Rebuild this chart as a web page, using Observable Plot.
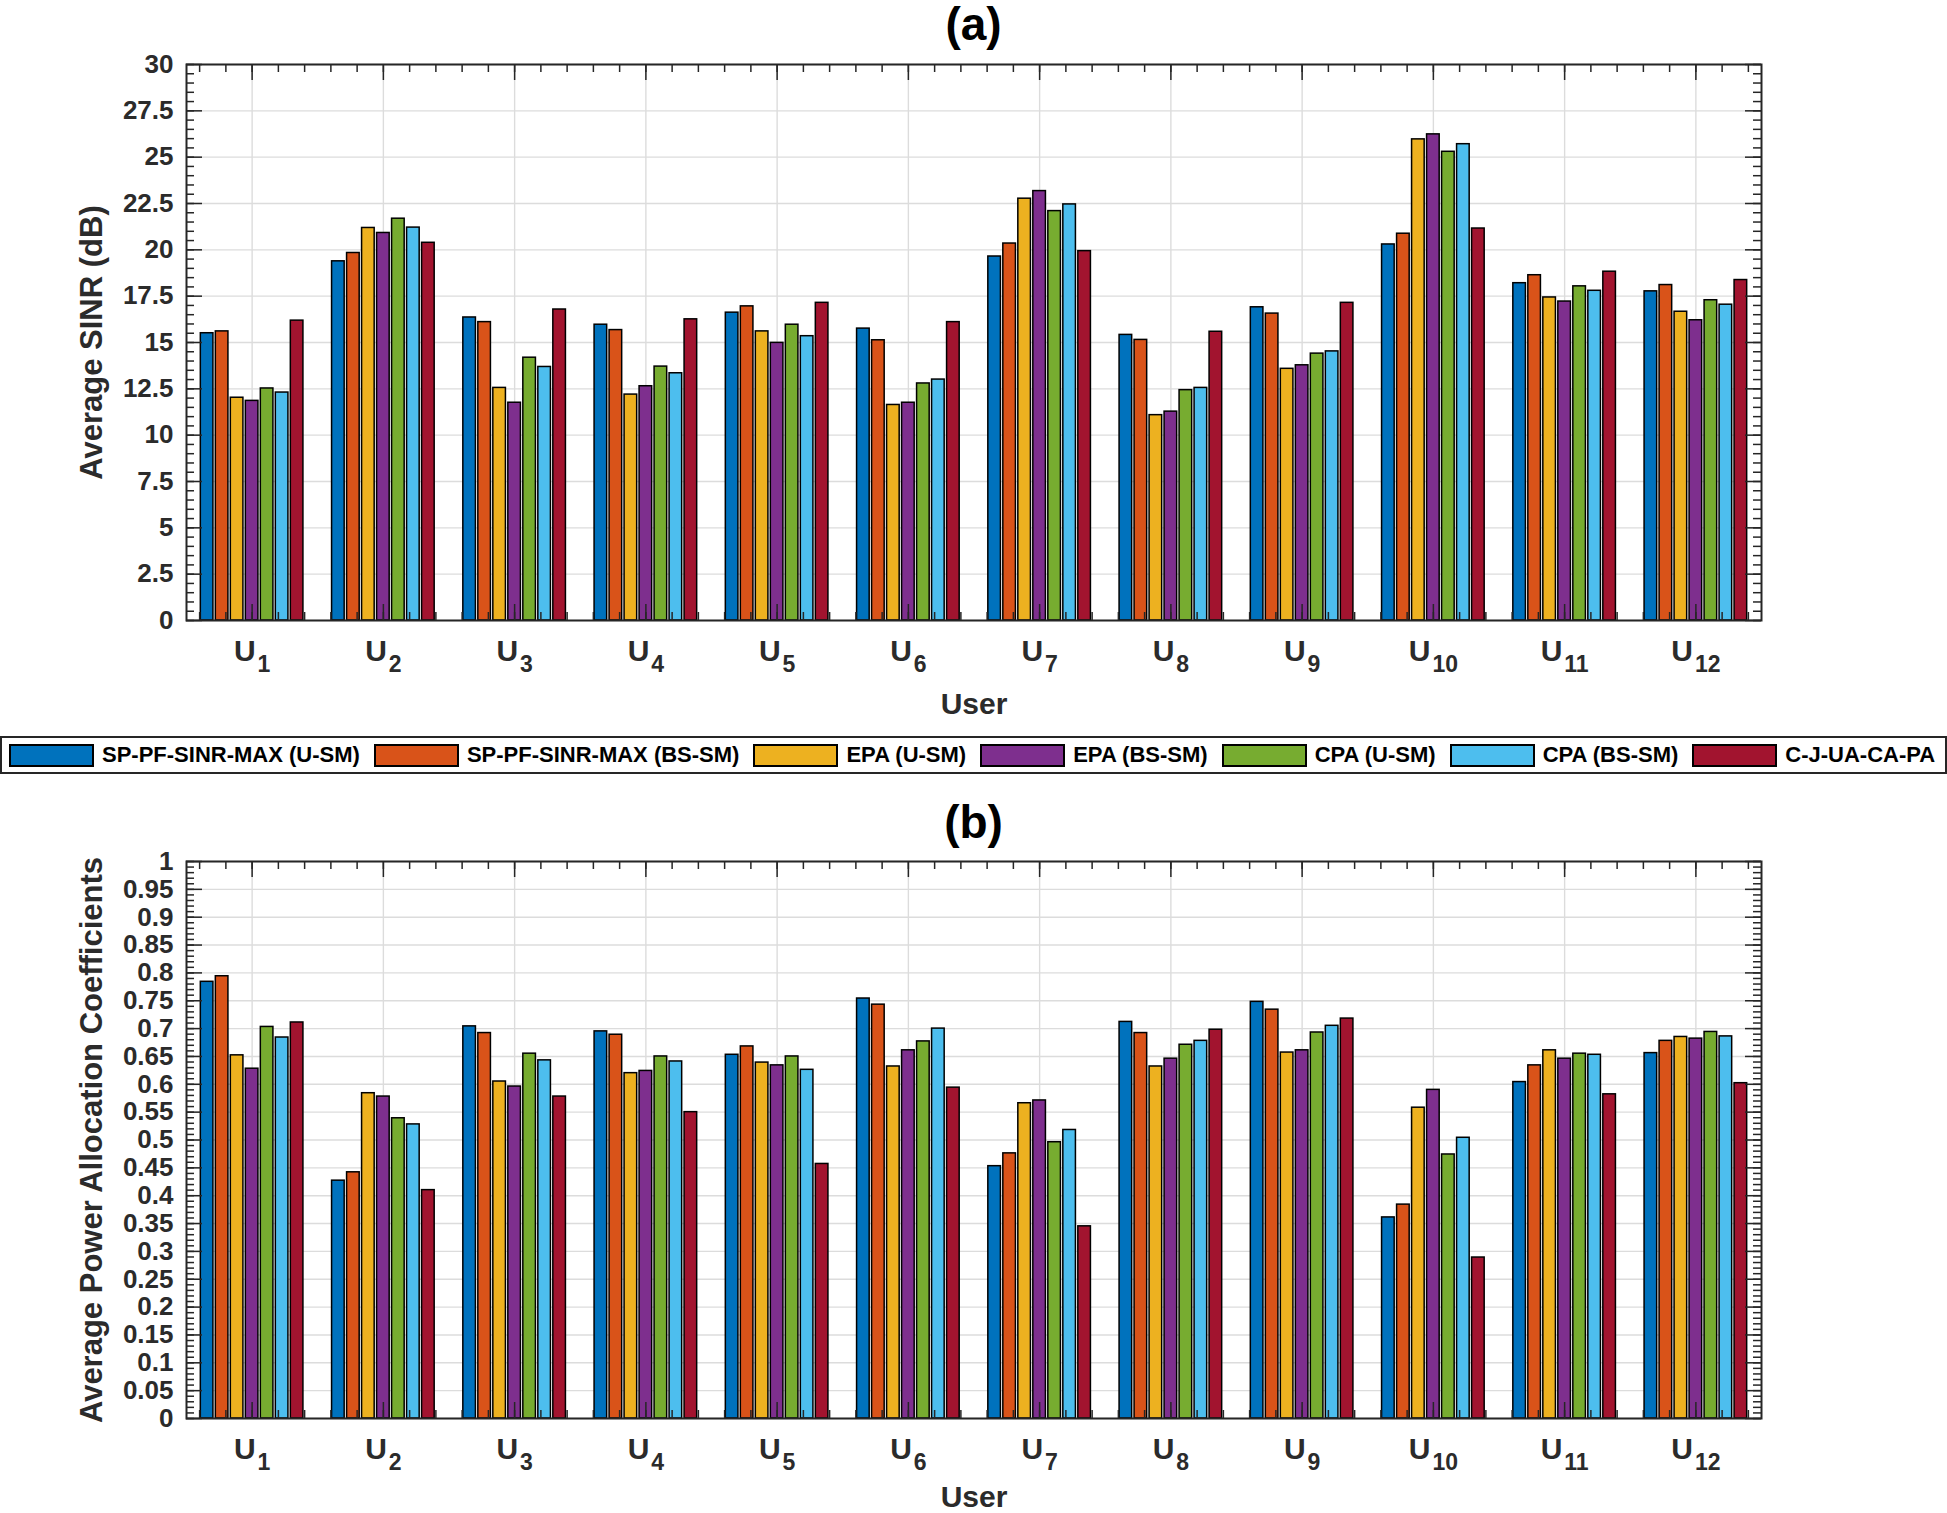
<!DOCTYPE html>
<html><head><meta charset="utf-8">
<script src="https://cdn.jsdelivr.net/npm/d3@7"></script>
<script src="https://cdn.jsdelivr.net/npm/@observablehq/plot@0.6"></script>
<style>
html,body{margin:0;padding:0;background:#fff;}
body{width:1947px;height:1513px;position:relative;overflow:hidden;font-family:"Liberation Sans",Arial,sans-serif;}
.title{position:absolute;left:0;width:1947px;text-align:center;font-weight:bold;font-size:46px;line-height:54px;color:#000;}
.chart{position:absolute;left:0;}
#legend{position:absolute;left:0;top:736px;width:1947px;height:38px;box-sizing:border-box;border:2px solid #262626;display:flex;align-items:center;padding-left:7px;font-weight:bold;font-size:22px;color:#000;background:#fff;white-space:nowrap;}
.item{display:flex;align-items:center;margin-right:14px;}
.sw{width:85px;height:23px;box-sizing:border-box;border:2px solid #000;margin-right:8px;flex:none;}
</style>
</head><body>
<div class="chart" id="ca" style="top:0px"></div>
<div class="title" id="ta" style="top:-3px">(a)</div>
<div id="legend"></div>
<div class="chart" id="cb" style="top:780px"></div>
<div class="title" id="tb" style="top:795px">(b)</div>
<script>
// ---------- data ----------
const userIndex = [1,2,3,4,5,6,7,8,9,10,11,12];
const seriesNames = ["SP-PF-SINR-MAX (U-SM)","SP-PF-SINR-MAX (BS-SM)","EPA (U-SM)","EPA (BS-SM)","CPA (U-SM)","CPA (BS-SM)","C-J-UA-CA-PA"];
const seriesColors = ["#0072BD","#D95319","#EDB120","#7E2F8E","#77AC30","#4DBEEE","#A2142F"];

// (a) Average SINR (dB)
const sinrSpU   = [15.5,19.38,16.35,15.96,16.61,15.75,19.64,15.41,16.9,20.29,18.2,17.76];
const sinrSpBs  = [15.6,19.83,16.1,15.67,16.95,15.12,20.34,15.14,16.56,20.87,18.63,18.1];
const sinrEpaU  = [12.02,21.18,12.55,12.19,15.6,11.63,22.76,11.08,13.58,25.96,17.43,16.66];
const sinrEpaBs = [11.85,20.91,11.75,12.64,14.98,11.75,23.17,11.27,13.77,26.23,17.21,16.2];
const sinrCpaU  = [12.52,21.68,14.18,13.7,15.96,12.79,22.09,12.43,14.4,25.29,18.03,17.28];
const sinrCpaBs = [12.3,21.2,13.68,13.34,15.34,13.0,22.45,12.55,14.52,25.7,17.79,17.04];
const sinrCj    = [16.18,20.38,16.78,16.25,17.14,16.1,19.93,15.58,17.14,21.15,18.82,18.37];

// (b) Average Power Allocation Coefficients
const pacSpU   = [0.784,0.427,0.704,0.695,0.653,0.754,0.453,0.712,0.748,0.361,0.604,0.656];
const pacSpBs  = [0.794,0.442,0.692,0.689,0.668,0.743,0.476,0.692,0.734,0.384,0.634,0.678];
const pacEpaU  = [0.652,0.584,0.605,0.62,0.639,0.632,0.566,0.632,0.657,0.558,0.661,0.685];
const pacEpaBs = [0.628,0.578,0.596,0.624,0.634,0.661,0.571,0.646,0.661,0.59,0.646,0.682];
const pacCpaU  = [0.703,0.539,0.655,0.65,0.65,0.677,0.496,0.671,0.693,0.474,0.655,0.694];
const pacCpaBs = [0.684,0.528,0.643,0.641,0.626,0.7,0.518,0.678,0.705,0.504,0.653,0.686];
const pacCj    = [0.711,0.41,0.578,0.55,0.457,0.594,0.345,0.698,0.718,0.289,0.582,0.602];

// tick values
const sinrMajor = [0,2.5,5,7.5,10,12.5,15,17.5,20,22.5,25,27.5,30];
const sinrMinorStep = 0.5;
const pacMajor = [0,0.05,0.1,0.15,0.2,0.25,0.3,0.35,0.4,0.45,0.5,0.55,0.6,0.65,0.7,0.75,0.8,0.85,0.9,0.95,1];
const pacMinorStep = 0.01;
const xMinorStep = 0.2;

// ---------- drawing ----------
const FONT = "'Liberation Sans', Arial, Helvetica, sans-serif";
const TXT = "#2b2b2b";

function chart({series, yMax, major, minorStep, ylabel, height, marginTop, marginBottom, userDy}) {
  const W = 1947, ML = 186, MR = 186;
  const PW = W - ML - MR, PH = height - marginTop - marginBottom;
  const data = [];
  series.forEach((vals, s) => vals.forEach((v, i) => data.push({u: userIndex[i], s, name: seriesNames[s], v})));
  const slot = 0.8 / seriesNames.length, bw = 0.84 * slot;
  const cx = d => d.u + (d.s - (seriesNames.length - 1) / 2) * slot;
  const nMinor = Math.round(yMax / minorStep);
  const yMinor = d3.range(0, nMinor + 1).map(k => +(k * minorStep).toFixed(4));
  const xMinor = d3.range(3, 63).map(k => +(k * xMinorStep).toFixed(4));
  const tc = {stroke: "#262626", strokeWidth: 1.5};
  const svg = Plot.plot({
    width: W, height, marginTop, marginBottom, marginLeft: ML, marginRight: MR,
    style: {fontFamily: FONT, fontWeight: "bold", background: "transparent", overflow: "visible"},
    x: {domain: [0.5, 12.5]},
    y: {domain: [0, yMax]},
    color: {domain: seriesNames, range: seriesColors},
    marks: [
      Plot.gridX(userIndex, {stroke: "#dcdcdc", strokeOpacity: 1, strokeWidth: 1.4}),
      Plot.gridY(major, {stroke: "#dcdcdc", strokeOpacity: 1, strokeWidth: 1.4}),
      Plot.rectY(data, {x1: d => cx(d) - bw / 2, x2: d => cx(d) + bw / 2, y1: 0, y2: "v", fill: "name", stroke: "#000", strokeWidth: 1.5}),
      Plot.tickY(yMinor, {y: d => d, insetRight: PW - 8, ...tc}),
      Plot.tickY(major, {y: d => d, insetRight: PW - 16, ...tc}),
      Plot.tickY(yMinor, {y: d => d, insetLeft: PW - 8, ...tc}),
      Plot.tickY(major, {y: d => d, insetLeft: PW - 16, ...tc}),
      Plot.tickX(xMinor, {x: d => d, insetBottom: PH - 8, ...tc}),
      Plot.tickX(userIndex, {x: d => d, insetBottom: PH - 16, ...tc}),
      Plot.tickX(xMinor, {x: d => d, insetTop: PH - 8, ...tc}),
      Plot.tickX(userIndex, {x: d => d, insetTop: PH - 16, ...tc}),
      Plot.frame({stroke: "#262626", strokeWidth: 2}),
      Plot.axisY(major, {tickSize: 0, tickPadding: 13, fontSize: 26, fill: TXT, label: null,
        tickFormat: d => String(+d.toFixed(2))}),
      Plot.axisX(userIndex, {tickSize: 0, tickPadding: 19, fontSize: 30, fill: TXT, label: null,
        tickFormat: d => "U" + d}),
      Plot.text([ylabel], {text: d => d, frameAnchor: "left", textAnchor: "middle", lineAnchor: "middle",
        rotate: -90, dx: -94, fontSize: 31, fontWeight: "bold", fill: TXT}),
      Plot.text(["User"], {text: d => d, frameAnchor: "bottom", textAnchor: "middle", lineAnchor: "middle",
        dy: userDy, fontSize: 30, fontWeight: "bold", fill: TXT})
    ]
  });
  // subscripts for user tick labels
  svg.querySelectorAll('g[aria-label="x-axis tick label"] text').forEach(t => {
    const s = t.textContent;
    const n = s.slice(1);
    t.textContent = "U";
    const ts = document.createElementNS("http://www.w3.org/2000/svg", "tspan");
    ts.setAttribute("dy", "11");
    ts.setAttribute("dx", "2");
    ts.setAttribute("font-size", "23");
    ts.textContent = n;
    t.appendChild(ts);
  });
  return svg;
}

document.getElementById("ca").appendChild(chart({
  series: [sinrSpU, sinrSpBs, sinrEpaU, sinrEpaBs, sinrCpaU, sinrCpaBs, sinrCj],
  yMax: 30, major: sinrMajor, minorStep: sinrMinorStep,
  ylabel: "Average SINR (dB)", height: 730, marginTop: 64, marginBottom: 110, userDy: 84
}));
document.getElementById("cb").appendChild(chart({
  series: [pacSpU, pacSpBs, pacEpaU, pacEpaBs, pacCpaU, pacCpaBs, pacCj],
  yMax: 1, major: pacMajor, minorStep: pacMinorStep,
  ylabel: "Average Power Allocation Coefficients", height: 733, marginTop: 81, marginBottom: 95, userDy: 79
}));

// legend
const lg = document.getElementById("legend");
seriesNames.forEach((name, i) => {
  const it = document.createElement("div");
  it.className = "item";
  const sw = document.createElement("div");
  sw.className = "sw";
  sw.style.background = seriesColors[i];
  const tx = document.createElement("span");
  tx.textContent = name;
  it.appendChild(sw); it.appendChild(tx);
  lg.appendChild(it);
});
</script>
</body></html>
